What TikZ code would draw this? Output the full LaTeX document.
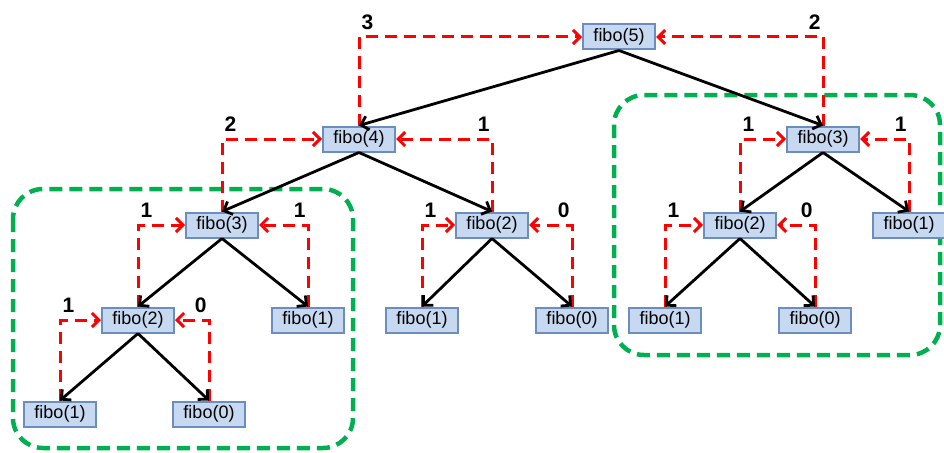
\documentclass[tikz,border=0pt]{standalone}
\usepackage{fontspec}
\setmainfont{Liberation Sans}
\usetikzlibrary{arrows.meta}
\definecolor{boxfill}{RGB}{198,217,241}
\definecolor{boxline}{RGB}{108,142,191}
\definecolor{memo}{RGB}{0,176,80}
\begin{document}
\begin{tikzpicture}[x=1pt, y=-1pt,
    call/.style={draw=boxline, line width=2pt, fill=boxfill, minimum width=72pt,
      minimum height=25pt, inner sep=0pt, font=\fontsize{18}{18}\selectfont},
    down/.style={line width=2.8pt, -{Straight Barb[length=7pt,width=14pt]}},
    back/.style={red, line width=3pt, dash pattern=on 12pt off 7pt,
      -{Straight Barb[length=7pt,width=14pt]}},
    val/.style={text=black, font=\fontsize{21}{21}\selectfont\bfseries, inner sep=1pt},
    reuse/.style={memo, line width=4.5pt, dash pattern=on 13pt off 7pt, rounded corners=30pt}]
  \useasboundingbox (0,0) rectangle (944,452);
  \draw[reuse] (13,189) rectangle (353,448);
  \draw[reuse] (614,95) rectangle (940,355);

  \node[call] (f5) at (619,37) {fibo(5)};
  \node[call] (f4) at (359,139) {fibo(4)};
  \node[call] (r3) at (823,139) {fibo(3)};
  \node[call] (l3) at (222,225) {fibo(3)};
  \node[call] (m2) at (492,225) {fibo(2)};
  \node[call] (r2) at (740,225) {fibo(2)};
  \node[call] (r1) at (909,225) {fibo(1)};
  \node[call] (l2) at (138,320) {fibo(2)};
  \node[call] (l1) at (308,320) {fibo(1)};
  \node[call] (m1) at (422,320) {fibo(1)};
  \node[call] (m0) at (572,320) {fibo(0)};
  \node[call] (rr1) at (665,320) {fibo(1)};
  \node[call] (r0) at (815,320) {fibo(0)};
  \node[call] (ll1) at (60,414) {fibo(1)};
  \node[call] (l0) at (209,414) {fibo(0)};

  % values handed back up
  \foreach \c/\p/\v in {f4/f5/3, l3/f4/2, ll1/l2/1, l2/l3/1, m1/m2/1, r2/r3/1, rr1/r2/1}
    \draw[back] (\c.north) |- node[val, pos=0.5, anchor=south west, yshift=5pt] {\v} (\p.west);
  \foreach \c/\p/\v in {r3/f5/2, m2/f4/1, l1/l3/1, l0/l2/0, m0/m2/0, r1/r3/1, r0/r2/0}
    \draw[back] (\c.north) |- node[val, pos=0.5, anchor=south east, yshift=5pt] {\v} (\p.east);

  % calls
  \foreach \p/\c in {f5/f4, f5/r3, f4/l3, f4/m2, l3/l2, l3/l1, l2/ll1, l2/l0,
                     m2/m1, m2/m0, r3/r2, r3/r1, r2/rr1, r2/r0}
    \draw[down] (\p.south) -- (\c.north);
\end{tikzpicture}
\end{document}
